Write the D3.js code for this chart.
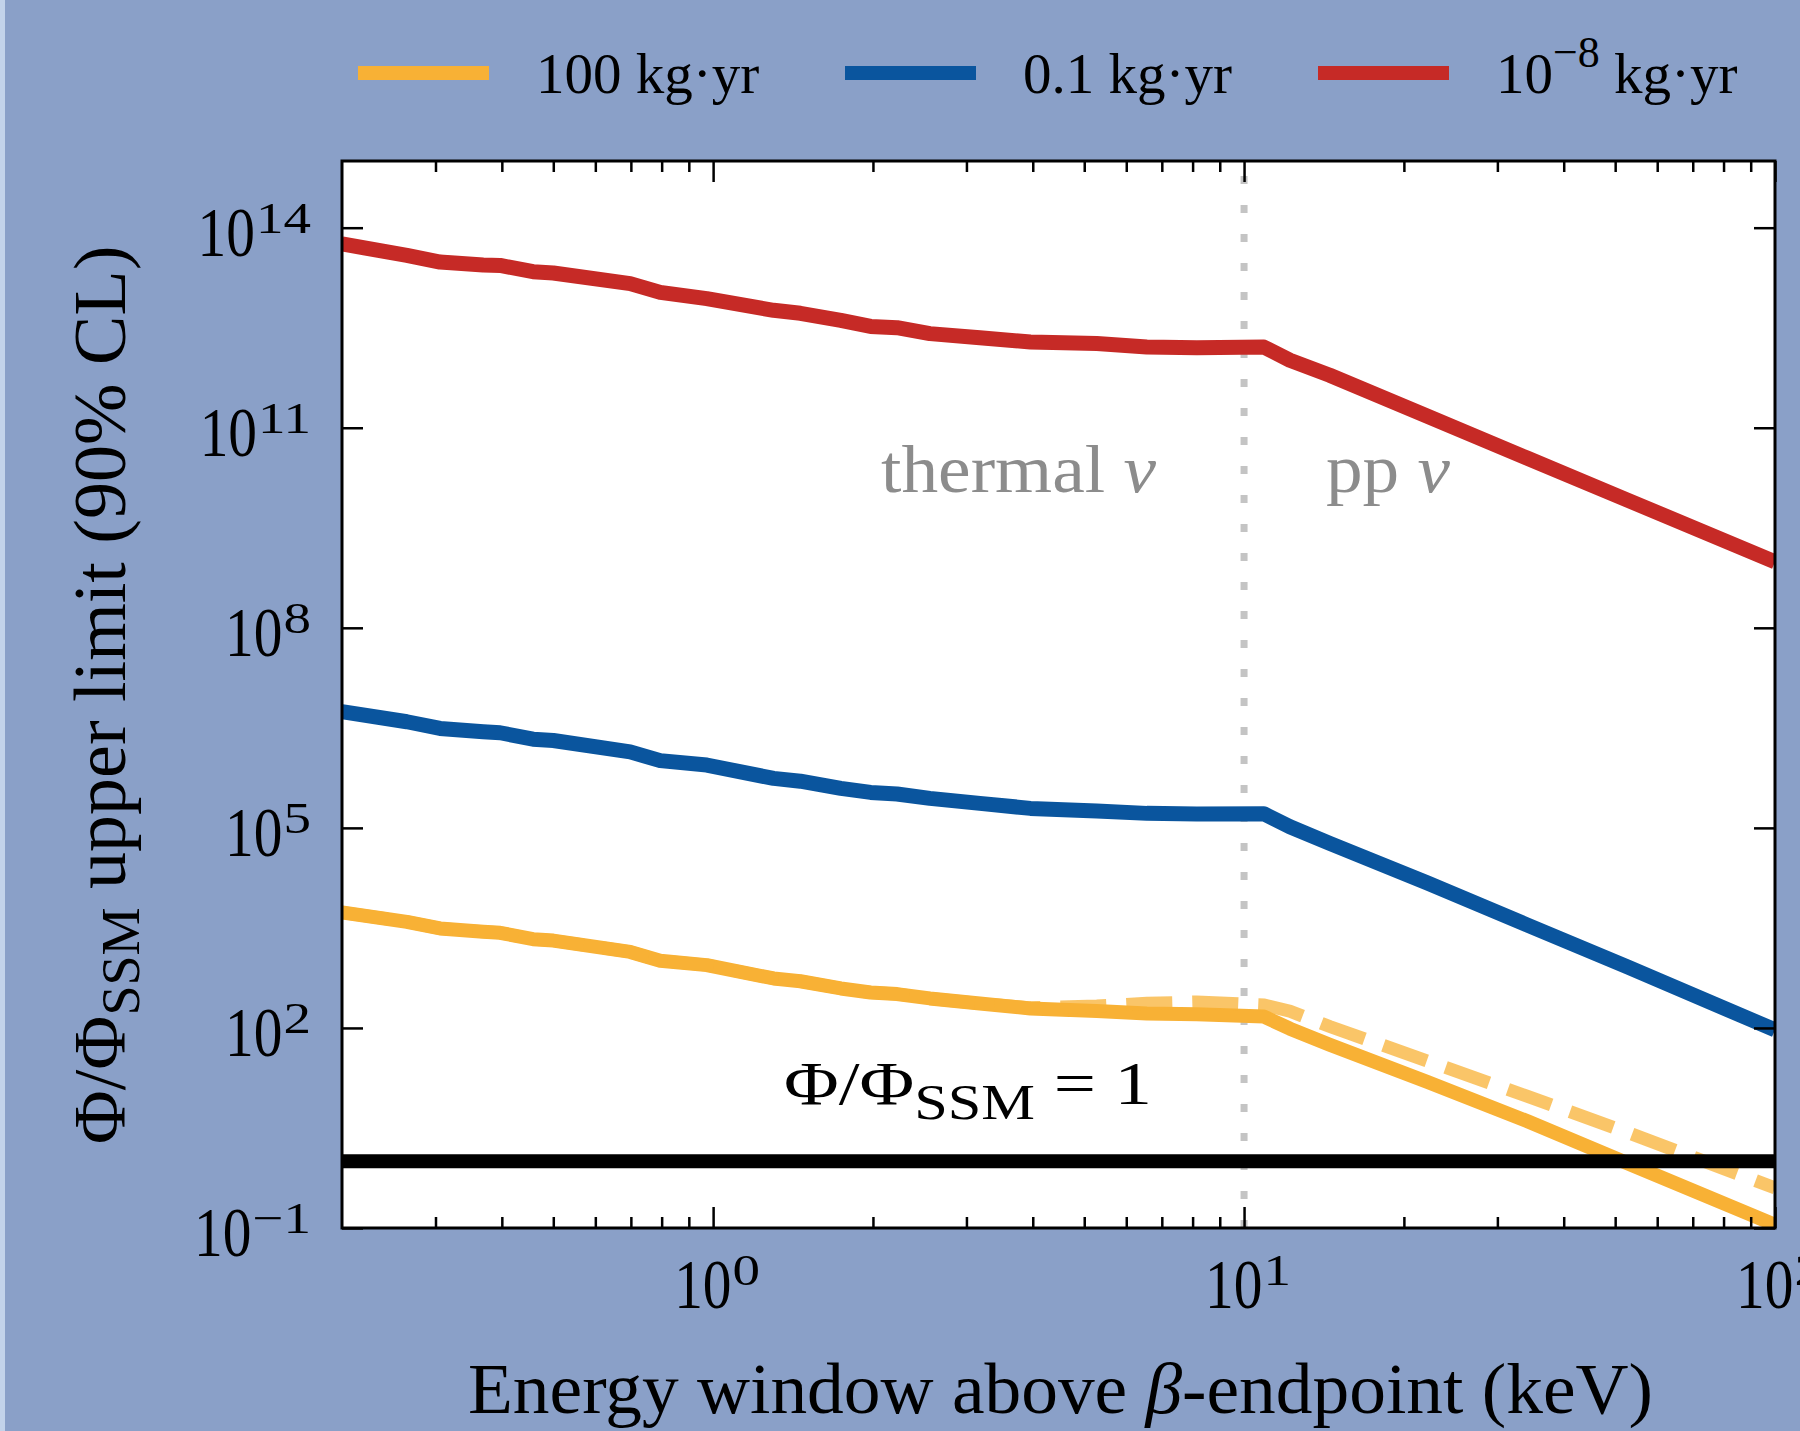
<!DOCTYPE html>
<html>
<head>
<meta charset="utf-8">
<script src="https://cdn.jsdelivr.net/npm/d3@7"></script>
<style>
  html, body { margin: 0; padding: 0; background: #8aa0c8; }
  svg { display: block; }
  text { font-family: "Liberation Serif", "DejaVu Serif", serif; }
</style>
</head>
<body>
<svg id="chart" width="1800" height="1431"></svg>
<script>
// Energy window above the beta endpoint (keV)
const energyKeV = [0.2, 0.265, 0.306, 0.369, 0.397, 0.458, 0.5, 0.698, 0.795, 0.973,
  1.3, 1.46, 1.74, 1.98, 2.22, 2.56, 3.18, 3.96, 5.28, 6.56, 8.15, 10.9,
  12.2, 14.5, 22.1, 34.1, 52.6, 100];

// 90% CL upper limits on Phi/Phi_SSM for each exposure
const limit1em8 = [5.70e13, 3.84e13, 3.05e13, 2.75e13, 2.72e13, 2.19e13, 2.09e13, 1.45e13, 1.07e13, 8.63e12,
  5.77e12, 5.20e12, 4.08e12, 3.31e12, 3.16e12, 2.58e12, 2.24e12, 1.93e12, 1.83e12, 1.63e12, 1.59e12, 1.62e12,
  1.03e12, 6.12e11, 1.50e11, 3.52e10, 8.30e9, 9.75e8];
const limit0p1 = [5.51e6, 3.90e6, 3.10e6, 2.76e6, 2.67e6, 2.14e6, 2.04e6, 1.38e6, 1.02e6, 8.75e5,
  5.52e5, 5.01e5, 3.91e5, 3.40e5, 3.22e5, 2.77e5, 2.33e5, 1.96e5, 1.79e5, 1.65e5, 1.61e5, 1.63e5,
  1.04e5, 5.87e4, 1.50e4, 3.52e3, 8.30e2, 93.3];
const limit100 = [5.4e3, 3.9e3, 3.1e3, 2.76e3, 2.67e3, 2.14e3, 2.04e3, 1.38e3, 1.02e3, 875,
  552, 501, 391, 340, 322, 277, 233, 196, 179, 165, 161, 148,
  97.5, 56.0, 15.6, 4.02, 0.944, 0.112];
const limit100Alt = [5.4e3, 3.9e3, 3.1e3, 2.76e3, 2.67e3, 2.14e3, 2.04e3, 1.38e3, 1.02e3, 875,
  552, 501, 391, 340, 322, 277, 233, 200, 214, 234, 245, 221,
  178, 105, 32.1, 9.46, 2.73, 0.398];

const legendMain = ["100", "0.1", "10"];
const legendSup = ["", "", "\u22128"];
const legendUnit = " kg\u00b7yr";

const xMajorTicks = [1, 10, 100];
const xMajorExp = ["0", "1", "2"];
const xMinorTicks = [0.3, 0.4, 0.5, 0.6, 0.7, 0.8, 0.9, 2, 3, 4, 5, 6, 7, 8, 9, 20, 30, 40, 50, 60, 70, 80, 90];
const yTicks = [1e-1, 1e2, 1e5, 1e8, 1e11, 1e14];
const yTickExp = ["\u22121", "2", "5", "8", "11", "14"];

const colors = { orange: "#f8b135", blue: "#0a559e", red: "#c62a26" };

const svg = d3.select("#chart");
const W = 1800, H = 1431;
const box = { left: 342, right: 1775, top: 161, bottom: 1228 };

const x = d3.scaleLog().domain([0.2, 100]).range([box.left, box.right]);
const y = d3.scaleLog().domain([1e-1, 1e15]).range([box.bottom, box.top]);

// figure background
svg.append("rect").attr("width", W).attr("height", H).attr("fill", "#8aa0c8");
svg.append("rect").attr("width", 5).attr("height", H).attr("fill", "#c3d3ea");

// axes area
svg.append("rect")
  .attr("x", box.left).attr("y", box.top)
  .attr("width", box.right - box.left).attr("height", box.bottom - box.top)
  .attr("fill", "#ffffff");

svg.append("clipPath").attr("id", "plotClip")
  .append("rect")
  .attr("x", box.left).attr("y", box.top)
  .attr("width", box.right - box.left).attr("height", box.bottom - box.top);

const plot = svg.append("g").attr("clip-path", "url(#plotClip)");

// boundary between thermal and pp regions
plot.append("line")
  .attr("x1", x(10)).attr("x2", x(10))
  .attr("y1", y(1e-1)).attr("y2", y(1e15))
  .attr("stroke", "#c4c4c4").attr("stroke-width", 7)
  .attr("stroke-dasharray", "8 21");

const line = d3.line()
  .x(d => x(d[0]))
  .y(d => y(d[1]));

const pairs = vals => energyKeV.map((e, i) => [e, vals[i]]);

plot.append("path").datum(pairs(limit1em8))
  .attr("d", line).attr("fill", "none").attr("stroke", colors.red)
  .attr("stroke-width", 15).attr("stroke-linejoin", "round");
plot.append("path").datum(pairs(limit0p1))
  .attr("d", line).attr("fill", "none").attr("stroke", colors.blue)
  .attr("stroke-width", 15).attr("stroke-linejoin", "round");
plot.append("path").datum(pairs(limit100))
  .attr("d", line).attr("fill", "none").attr("stroke", colors.orange)
  .attr("stroke-width", 14).attr("stroke-linejoin", "round");
plot.append("path").datum(pairs(limit100Alt))
  .attr("d", line).attr("fill", "none").attr("stroke", colors.orange)
  .attr("stroke-opacity", 0.75)
  .attr("stroke-width", 13).attr("stroke-dasharray", "46 20");

// Phi / Phi_SSM = 1 reference
plot.append("line")
  .attr("x1", box.left).attr("x2", box.right)
  .attr("y1", y(1)).attr("y2", y(1))
  .attr("stroke", "#000").attr("stroke-width", 14);

// ticks (inward on all four sides)
const tickStyle = g => {
  g.select(".domain").remove();
  g.selectAll(".tick line").attr("stroke", "#000").attr("stroke-width", 2.5);
  g.selectAll(".tick text").remove();
};
svg.append("g").attr("transform", `translate(0,${box.bottom})`)
  .call(d3.axisBottom(x).tickValues(xMajorTicks).tickSizeInner(-21).tickSizeOuter(0)).call(tickStyle);
svg.append("g").attr("transform", `translate(0,${box.bottom})`)
  .call(d3.axisBottom(x).tickValues(xMinorTicks).tickSizeInner(-11).tickSizeOuter(0)).call(tickStyle);
svg.append("g").attr("transform", `translate(0,${box.top})`)
  .call(d3.axisTop(x).tickValues(xMajorTicks).tickSizeInner(-21).tickSizeOuter(0)).call(tickStyle);
svg.append("g").attr("transform", `translate(0,${box.top})`)
  .call(d3.axisTop(x).tickValues(xMinorTicks).tickSizeInner(-11).tickSizeOuter(0)).call(tickStyle);
svg.append("g").attr("transform", `translate(${box.left},0)`)
  .call(d3.axisLeft(y).tickValues(yTicks).tickSizeInner(-21).tickSizeOuter(0)).call(tickStyle);
svg.append("g").attr("transform", `translate(${box.right},0)`)
  .call(d3.axisRight(y).tickValues(yTicks).tickSizeInner(-21).tickSizeOuter(0)).call(tickStyle);

svg.append("rect")
  .attr("x", box.left).attr("y", box.top)
  .attr("width", box.right - box.left).attr("height", box.bottom - box.top)
  .attr("fill", "none").attr("stroke", "#000").attr("stroke-width", 3);

// power-of-ten labels: "10" with a raised exponent
function powerLabel(px, py, exp, anchor) {
  const g = svg.append("g");
  const base = g.append("text").attr("font-size", 70).attr("fill", "#000")
    .attr("transform", "scale(0.82,1)").text("10");
  const bw = base.node().getComputedTextLength() * 0.82;
  const sup = g.append("text").attr("font-size", 44).attr("fill", "#000")
    .attr("transform", `translate(${bw + 1},-23) scale(1.25,1)`).text(exp);
  const total = bw + 1 + sup.node().getComputedTextLength() * 1.25;
  const dx = anchor === "end" ? -total : anchor === "middle" ? -total / 2 : 0;
  g.attr("transform", `translate(${px + dx},${py})`);
}

xMajorTicks.forEach((v, i) => powerLabel(x(v) + 4, 1308, xMajorExp[i], "middle"));
yTicks.forEach((v, i) => powerLabel(311, y(v) + 28, yTickExp[i], "end"));

// axis titles
const xTitle = svg.append("text")
  .attr("x", 468).attr("y", 1413).attr("font-size", 72).attr("fill", "#000")
  .attr("textLength", 1185).attr("lengthAdjust", "spacingAndGlyphs");
xTitle.append("tspan").text("Energy window above ");
xTitle.append("tspan").attr("font-style", "italic").text("\u03b2");
xTitle.append("tspan").text("-endpoint (keV)");

const yTitle = svg.append("text")
  .attr("transform", "translate(125,695) rotate(-90)")
  .attr("text-anchor", "middle").attr("font-size", 74).attr("fill", "#000");
yTitle.append("tspan").text("\u03a6/\u03a6");
yTitle.append("tspan").attr("dy", 14).attr("font-size", 54).text("SSM");
yTitle.append("tspan").attr("dy", -14).text(" upper limit (90% CL)");

// region annotations
const thermal = svg.append("text").attr("x", 881).attr("y", 492)
  .attr("font-size", 68).attr("fill", "#8c8c8c")
  .attr("textLength", 275).attr("lengthAdjust", "spacingAndGlyphs");
thermal.append("tspan").text("thermal ");
thermal.append("tspan").attr("font-style", "italic").text("\u03bd");
const pp = svg.append("text").attr("x", 1326).attr("y", 492)
  .attr("font-size", 68).attr("fill", "#8c8c8c")
  .attr("textLength", 124).attr("lengthAdjust", "spacingAndGlyphs");
pp.append("tspan").text("pp ");
pp.append("tspan").attr("font-style", "italic").text("\u03bd");

const unity = svg.append("text").attr("x", 784).attr("y", 1104)
  .attr("font-size", 62).attr("fill", "#000")
  .attr("textLength", 368).attr("lengthAdjust", "spacingAndGlyphs");
unity.append("tspan").text("\u03a6/\u03a6");
unity.append("tspan").attr("dy", 15).attr("font-size", 50).text("SSM");
unity.append("tspan").attr("dy", -15).text(" = 1");

// legend
const legendX = [358, 845, 1318];
const legendColors = [colors.orange, colors.blue, colors.red];
legendX.forEach((lx, i) => {
  svg.append("line")
    .attr("x1", lx).attr("x2", lx + 131).attr("y1", 73).attr("y2", 73)
    .attr("stroke", legendColors[i]).attr("stroke-width", 14);
  const t = svg.append("text").attr("x", lx + 178).attr("y", 93)
    .attr("font-size", 57).attr("fill", "#000");
  t.append("tspan").text(legendMain[i]);
  if (legendSup[i]) {
    t.append("tspan").attr("dy", -26).attr("font-size", 44).text(legendSup[i]);
    t.append("tspan").attr("dy", 26).text(legendUnit);
  } else {
    t.append("tspan").text(legendUnit);
  }
});
</script>
</body>
</html>
